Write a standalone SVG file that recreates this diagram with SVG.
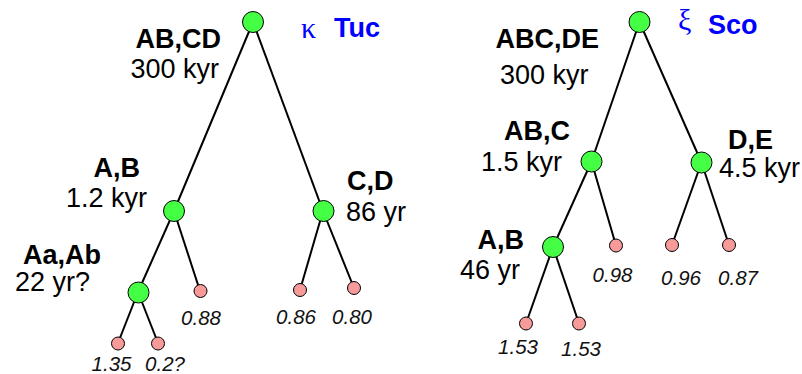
<svg xmlns="http://www.w3.org/2000/svg" width="802" height="374" viewBox="0 0 802 374">
<style>
.edge{stroke:#000;stroke-width:2;fill:none}
.n{fill:#44ff44;stroke:#000;stroke-width:1}
.leaf{fill:#f79a9a;stroke:#000;stroke-width:1}
.b{font-family:"Liberation Sans",Arial,sans-serif;font-weight:bold;font-size:27px;fill:#000}
.r{font-family:"Liberation Sans",Arial,sans-serif;font-size:27px;fill:#000}
.i{font-family:"Liberation Sans",Arial,sans-serif;font-style:italic;font-size:20.5px;fill:#111;text-anchor:middle}
.t{font-family:"Liberation Sans",Arial,sans-serif;font-weight:bold;font-size:27px;fill:#0000ff}
.g{font-family:"Liberation Serif","DejaVu Serif",serif;font-size:30px;fill:#0000ff}
</style>
<rect width="802" height="374" fill="#fff"/>
<g id="connectors">
<line class="edge" x1="253" y1="22" x2="174" y2="211"/>
<line class="edge" x1="253" y1="22" x2="323" y2="211"/>
<line class="edge" x1="174" y1="211" x2="138" y2="292"/>
<line class="edge" x1="174" y1="211" x2="200" y2="291"/>
<line class="edge" x1="138" y1="292" x2="118" y2="343"/>
<line class="edge" x1="138" y1="292" x2="158" y2="343"/>
<line class="edge" x1="323" y1="211" x2="300" y2="290"/>
<line class="edge" x1="323" y1="211" x2="354" y2="288"/>
<line class="edge" x1="639.5" y1="22" x2="591.5" y2="161.5"/>
<line class="edge" x1="639.5" y1="22" x2="701.5" y2="162.5"/>
<line class="edge" x1="591.5" y1="161.5" x2="553" y2="247"/>
<line class="edge" x1="591.5" y1="161.5" x2="616" y2="245.5"/>
<line class="edge" x1="701.5" y1="162.5" x2="672" y2="245"/>
<line class="edge" x1="701.5" y1="162.5" x2="729" y2="245"/>
<line class="edge" x1="553" y1="247" x2="526" y2="323.5"/>
<line class="edge" x1="553" y1="247" x2="579" y2="323.5"/>
</g>
<g id="title-kTuc"><text class="g" x="301" y="38">κ</text><text class="t" x="334" y="37">Tuc</text></g>
<g id="title-xSco"><text class="g" x="678" y="30">ξ</text><text class="t" x="708" y="34">Sco</text></g>
<g id="kTuc-ABCD"><circle class="n" cx="253" cy="22" r="10.5"/><text class="b" x="221" y="48" text-anchor="end">AB,CD</text><text class="r" x="219" y="78" text-anchor="end">300 kyr</text></g>
<g id="kTuc-AB"><circle class="n" cx="174" cy="211" r="10.5"/><text class="b" x="140" y="177" text-anchor="end">A,B</text><text class="r" x="147" y="207" text-anchor="end">1.2 kyr</text></g>
<g id="kTuc-CD"><circle class="n" cx="323.5" cy="211" r="10.5"/><text class="b" x="347" y="190">C,D</text><text class="r" x="346" y="221">86 yr</text></g>
<g id="kTuc-AaAb"><circle class="n" cx="138.5" cy="292.5" r="10.5"/><text class="b" x="23" y="264">Aa,Ab</text><text class="r" x="15" y="291">22 yr?</text></g>
<g id="kTuc-Aa"><circle class="leaf" cx="118" cy="343.5" r="6.5"/><text class="i" x="111.5" y="371">1.35</text></g>
<g id="kTuc-Ab"><circle class="leaf" cx="158" cy="343.5" r="6.5"/><text class="i" x="165" y="371">0.2?</text></g>
<g id="kTuc-B"><circle class="leaf" cx="200.5" cy="291" r="6.5"/><text class="i" x="201" y="325">0.88</text></g>
<g id="kTuc-C"><circle class="leaf" cx="300" cy="290" r="6.5"/><text class="i" x="296" y="324">0.86</text></g>
<g id="kTuc-D"><circle class="leaf" cx="354" cy="288" r="6.5"/><text class="i" x="352" y="324">0.80</text></g>
<g id="xSco-ABCDE"><circle class="n" cx="639.5" cy="22" r="10.5"/><text class="b" x="599" y="48" text-anchor="end">ABC,DE</text><text class="r" x="500" y="84">300 kyr</text></g>
<g id="xSco-ABC"><circle class="n" cx="591.5" cy="161.5" r="10.5"/><text class="b" x="570" y="140" text-anchor="end">AB,C</text><text class="r" x="562" y="171" text-anchor="end">1.5 kyr</text></g>
<g id="xSco-DE"><circle class="n" cx="701.5" cy="162.5" r="10.5"/><text class="b" x="728" y="149">D,E</text><text class="r" x="719" y="177">4.5 kyr</text></g>
<g id="xSco-AB"><circle class="n" cx="553" cy="247" r="10.5"/><text class="b" x="524" y="249" text-anchor="end">A,B</text><text class="r" x="520" y="279" text-anchor="end">46 yr</text></g>
<g id="xSco-A"><circle class="leaf" cx="526" cy="323.5" r="6.5"/><text class="i" x="518" y="354">1.53</text></g>
<g id="xSco-B"><circle class="leaf" cx="579" cy="323.5" r="6.5"/><text class="i" x="581" y="356">1.53</text></g>
<g id="xSco-C"><circle class="leaf" cx="616" cy="245.5" r="6.5"/><text class="i" x="612.5" y="282">0.98</text></g>
<g id="xSco-D"><circle class="leaf" cx="672" cy="245" r="6.5"/><text class="i" x="681" y="285">0.96</text></g>
<g id="xSco-E"><circle class="leaf" cx="729" cy="245" r="6.5"/><text class="i" x="738" y="285">0.87</text></g>
</svg>
